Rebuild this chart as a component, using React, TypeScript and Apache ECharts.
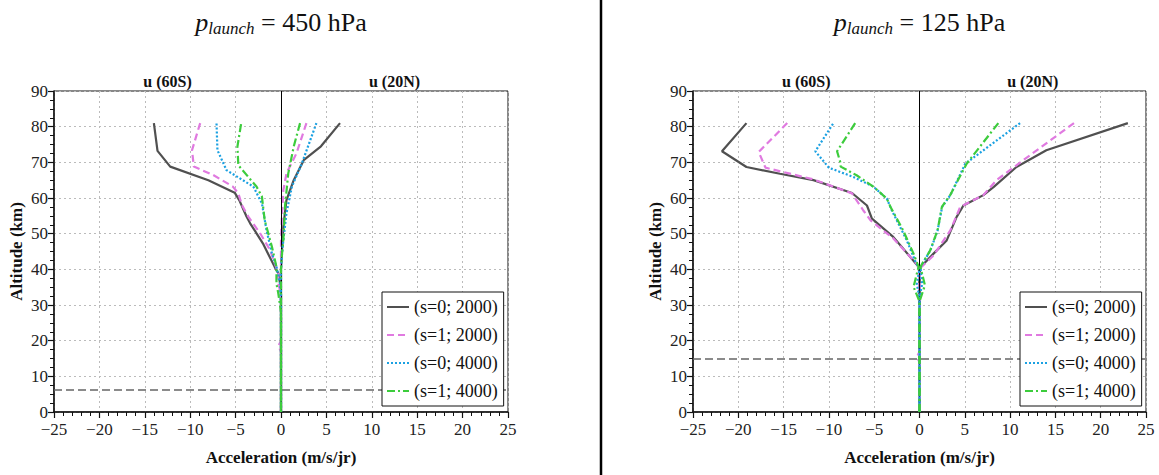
import React, { useEffect, useRef } from "react";
import * as echarts from "echarts";

const FONT = "Liberation Serif, Times New Roman, serif";

const legendNames = ["(s=0; 2000)", "(s=1; 2000)", "(s=0; 4000)", "(s=1; 4000)"];
const xTicks = { min: -25, max: 25, interval: 5 };
const yTicks = { min: 0, max: 90, interval: 10 };
const panelTitles = ["450", "125"];
const launchAltitudes = [6.2, 15];

// p_launch = 450 hPa : [acceleration, altitude]
const L_s0_2000_S = [[-14.0, 81], [-13.6, 73.2], [-12.2, 68.8], [-8.0, 65], [-5.1, 61.5], [-4.6, 59.4], [-3.8, 54.8], [-3.4, 52.9], [-2.0, 47.3], [-0.7, 40.7], [-0.3, 38.9], [-0.1, 36], [0, 33], [0, 0]];
const L_s0_2000_N = [[6.5, 81], [4.4, 74.5], [2.5, 70.6], [1.4, 65], [0.6, 59.4], [0.26, 52], [0.1, 45], [0, 40], [0, 0]];
const L_s1_2000_S = [[-8.9, 81], [-9.8, 73.4], [-9.6, 68.8], [-7.5, 66.5], [-5.3, 63.2], [-4.7, 61.3], [-4.3, 58], [-3.6, 54.8], [-2.3, 50.1], [-1.2, 45.4], [-0.3, 38.9], [-0.3, 36], [0, 33], [0, 20], [-0.3, 18.5], [0, 17], [0, 0]];
const L_s1_2000_N = [[2.8, 81], [1.7, 72.5], [0.6, 66.9], [0.26, 62.2], [0.1, 55], [0, 48], [0, 0]];
const L_s0_4000_S = [[-7.1, 80.9], [-7.0, 73.4], [-6.0, 67.8], [-3.05, 63.2], [-2.1, 58.5], [-1.6, 51], [-1.0, 44.5], [-0.5, 40.7], [-0.1, 36], [0, 30], [0, 0]];
const L_s0_4000_N = [[3.9, 81], [2.3, 69.7], [1.2, 63.2], [0.6, 55.7], [0.26, 48.2], [0.1, 44], [0, 40], [0, 0]];
const L_s1_4000_S = [[-4.4, 80.7], [-4.8, 74.4], [-4.7, 69.2], [-2.7, 63.2], [-2.1, 60.4], [-1.8, 53.8], [-1.0, 46.3], [-0.5, 40.7], [-0.5, 36], [-0.3, 33.3], [0, 28], [0, 0]];
const L_s1_4000_N = [[2.1, 81], [1.4, 74.4], [0.8, 66.9], [0.44, 57.6], [0.26, 48.2], [0.1, 44], [0, 40], [0, 0]];

// p_launch = 125 hPa
const R_s0_2000_S = [[-19.1, 81], [-21.8, 73.1], [-19.1, 68.7], [-15.4, 66.8], [-11.7, 65], [-7.45, 61.4], [-5.8, 57.9], [-5.25, 54.2], [-2.9, 49.1], [-0.1, 40.7], [0, 38], [0, 0]];
const R_s0_2000_N = [[23.0, 81], [14.0, 73.4], [10.7, 68.7], [8.2, 63.1], [7.05, 60.8], [4.85, 57.9], [4.1, 54.7], [3.0, 48.1], [1.55, 44.4], [0.1, 40.6], [0, 38], [0, 0]];
const R_s1_2000_S = [[-14.6, 81], [-17.75, 72.9], [-17.0, 68.5], [-11.7, 65.2], [-7.45, 61.3], [-6.2, 56.5], [-5.4, 53.7], [-2.9, 48.7], [-0.2, 41.2], [0, 38], [0, 17], [-0.3, 15.3], [0, 14], [0, 0]];
const R_s1_2000_N = [[17.05, 81], [11.45, 70.6], [8.5, 65], [7.05, 60.8], [4.5, 57.5], [3.4, 50.9], [1.55, 43.9], [0.1, 40.4], [0, 38], [0, 0]];
const R_s0_4000_S = [[-9.55, 80.8], [-11.5, 73.1], [-10.0, 68.5], [-7.3, 65.9], [-5.1, 63.2], [-3.6, 59.8], [-3.05, 56.5], [-1.4, 48.1], [-0.5, 42.5], [0, 40], [-0.3, 36], [0, 32], [0, 0]];
const R_s0_4000_N = [[11.1, 81], [5.05, 69.6], [3.4, 60.8], [2.5, 57.5], [2.0, 50.9], [1.2, 45.3], [0.1, 40.6], [0.3, 36], [0, 32], [0, 0]];
const R_s1_4000_S = [[-7.1, 81], [-9.1, 73.1], [-8.75, 70.1], [-8.7, 68.8], [-6.9, 66.3], [-5.1, 63.2], [-3.6, 59.8], [-3.2, 57.5], [-1.8, 50.9], [-0.66, 44.4], [-0.1, 40.7], [-0.66, 35.1], [0, 31], [0, 0]];
const R_s1_4000_N = [[8.7, 81], [5.2, 69.6], [3.38, 60.8], [2.47, 57.5], [1.99, 50.9], [1.18, 45.3], [0.1, 40.7], [0.6, 35.5], [0, 31], [0, 0]];

const panels = [
  [[L_s0_2000_S, L_s0_2000_N], [L_s1_2000_S, L_s1_2000_N], [L_s0_4000_S, L_s0_4000_N], [L_s1_4000_S, L_s1_4000_N]],
  [[R_s0_2000_S, R_s0_2000_N], [R_s1_2000_S, R_s1_2000_N], [R_s0_4000_S, R_s0_4000_N], [R_s1_4000_S, R_s1_4000_N]],
];

const COLORS = ["#505050", "#e07ae0", "#1ba1e2", "#3ccc3c"];
const DASHES: any[] = ["solid", [7, 4], [2, 2], [8, 3, 2, 3]];

const GRIDS = [
  { left: 54, top: 91, width: 454, height: 321 },
  { left: 693, top: 91, width: 453, height: 321 },
];

export default function App() {
  const ref = useRef<HTMLDivElement>(null);
  useEffect(() => {
    if (!ref.current) return;
    const chart = echarts.init(ref.current, undefined, { renderer: "svg" });

    const series: any[] = [];
    panels.forEach((panel, gi) => {
      panel.forEach((pair, si) => {
        pair.forEach((data, hi) => {
          const s: any = {
            type: "line",
            name: legendNames[si],
            xAxisIndex: gi,
            yAxisIndex: gi,
            data,
            symbol: "none",
            smooth: false,
            lineStyle: { color: COLORS[si], width: 2.2, type: DASHES[si] },
            itemStyle: { color: COLORS[si] },
            z: 3 + si,
          };
          if (si === 0 && hi === 0) {
            s.markLine = {
              silent: true,
              symbol: ["none", "none"],
              label: { show: false },
              data: [
                { xAxis: 0, lineStyle: { color: "#000", width: 1, type: "solid" } },
                { yAxis: launchAltitudes[gi], lineStyle: { color: "#666", width: 1.5, type: [8, 4] } },
              ],
            };
          }
          series.push(s);
        });
      });
    });

    const axisLabelStyle = { fontFamily: FONT, fontSize: 17, color: "#222" };
    const minus = (v: number) => String(v).replace("-", "\u2212");

    const xAxes = GRIDS.map((_, gi) => ({
      type: "value",
      gridIndex: gi,
      ...xTicks,
      name: "Acceleration (m/s/jr)",
      nameLocation: "middle",
      nameGap: 37,
      nameTextStyle: { fontFamily: FONT, fontSize: 17, fontWeight: "bold", color: "#111" },
      axisLine: { show: true, onZero: false, lineStyle: { color: "#111", width: 1.5 } },
      axisTick: { show: true, inside: false, length: 6, lineStyle: { color: "#111", width: 1.2 } },
      minorTick: { show: true, splitNumber: 5, length: 4, lineStyle: { color: "#111", width: 1 } },
      axisLabel: { ...axisLabelStyle, margin: 9, formatter: minus },
      splitLine: { show: true, lineStyle: { color: "#bbb", type: [2, 3], width: 1 } },
    }));
    const yAxes = GRIDS.map((_, gi) => ({
      type: "value",
      gridIndex: gi,
      ...yTicks,
      name: "Altitude (km)",
      nameLocation: "middle",
      nameGap: 29,
      nameTextStyle: { fontFamily: FONT, fontSize: 17, fontWeight: "bold", color: "#111" },
      axisLine: { show: true, onZero: false, lineStyle: { color: "#111", width: 1.5 } },
      axisTick: { show: true, inside: false, length: 6, lineStyle: { color: "#111", width: 1.2 } },
      minorTick: { show: true, splitNumber: 4, length: 4, lineStyle: { color: "#111", width: 1 } },
      axisLabel: { ...axisLabelStyle, margin: 6 },
      splitLine: { show: true, lineStyle: { color: "#bbb", type: [2, 3], width: 1 } },
    }));

    const legends = GRIDS.map((g) => ({
      data: legendNames,
      orient: "vertical",
      left: g.left + g.width - 126,
      top: 292,
      z: 20,
      itemWidth: 22,
      itemHeight: 14,
      itemGap: 10,
      padding: [6, 6, 6, 4],
      borderColor: "#111",
      borderWidth: 1,
      borderRadius: 0,
      backgroundColor: "#fff",
      selectedMode: false,
      itemStyle: { opacity: 0, borderWidth: 0 },
      textStyle: { fontFamily: FONT, fontSize: 18, color: "#111", lineHeight: 18 },
    }));

    const graphic: any[] = [
      {
        type: "line",
        shape: { x1: 601, y1: 0, x2: 601, y2: 475 },
        style: { stroke: "#000", lineWidth: 2.5 },
      },
    ];
    GRIDS.forEach((g, gi) => {
      graphic.push({
        type: "text",
        x: g.left + g.width / 2,
        y: 22,
        style: {
          text: `{i|p}{s|launch}{n| = ${panelTitles[gi]} hPa}`,
          align: "center",
          verticalAlign: "middle",
          rich: {
            i: { fontFamily: FONT, fontStyle: "italic", fontSize: 26, lineHeight: 30, verticalAlign: "middle", fill: "#111" },
            s: { fontFamily: FONT, fontStyle: "italic", fontSize: 17, lineHeight: 16, verticalAlign: "bottom", fill: "#111" },
            n: { fontFamily: FONT, fontSize: 26, lineHeight: 30, verticalAlign: "middle", fill: "#111" },
          },
        },
      });
      graphic.push({
        type: "text",
        x: g.left + g.width / 4,
        y: 81,
        style: { text: "u (60S)", align: "center", verticalAlign: "middle", fontFamily: FONT, fontSize: 16, fontWeight: "bold", fill: "#111" },
      });
      graphic.push({
        type: "text",
        x: g.left + (3 * g.width) / 4,
        y: 81,
        style: { text: "u (20N)", align: "center", verticalAlign: "middle", fontFamily: FONT, fontSize: 16, fontWeight: "bold", fill: "#111" },
      });
    });

    chart.setOption({
      animation: false,
      backgroundColor: "#fff",
      grid: GRIDS.map((g) => ({ ...g, show: true, borderColor: "#111", borderWidth: 1, backgroundColor: "transparent" })),
      xAxis: xAxes,
      yAxis: yAxes,
      legend: legends,
      series,
      graphic,
    });
    return () => chart.dispose();
  }, []);
  return <div ref={ref} style={{ position: "fixed", left: 0, top: 0, width: 1159, height: 475 }} />;
}
